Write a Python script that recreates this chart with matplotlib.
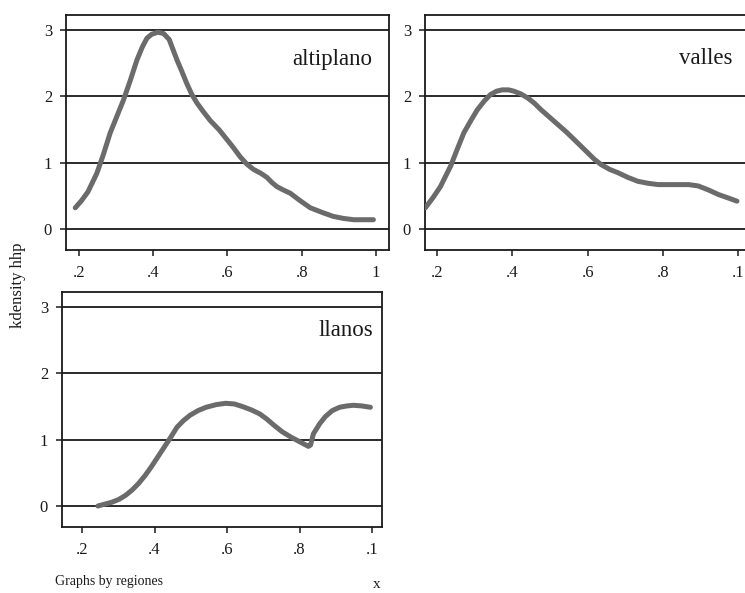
import matplotlib
matplotlib.use("Agg")
import matplotlib.pyplot as plt
import numpy as np

plt.rcParams['font.family'] = ['Liberation Serif', 'DejaVu Serif']

# Data
altiplano_x = [0.19, 0.207, 0.224, 0.248, 0.266, 0.284, 0.302, 0.32, 0.338, 0.356, 0.37, 0.383, 0.396,
               0.413, 0.428, 0.443, 0.464, 0.477, 0.49, 0.504, 0.518, 0.535,
               0.553, 0.577, 0.60, 0.617, 0.634, 0.652, 0.67, 0.69, 0.706, 0.72, 0.733, 0.75, 0.769,
               0.795, 0.823, 0.855, 0.885, 0.912, 0.94, 0.965, 0.993]
altiplano_y = [0.32, 0.43, 0.56, 0.84, 1.13, 1.45, 1.70, 1.95, 2.24, 2.55, 2.74, 2.88, 2.94,
               2.97, 2.95, 2.86, 2.55, 2.38, 2.20, 2.03, 1.90, 1.77,
               1.64, 1.50, 1.34, 1.22, 1.09, 0.98, 0.90, 0.84, 0.78, 0.70, 0.64, 0.59, 0.54,
               0.43, 0.32, 0.25, 0.19, 0.16, 0.14, 0.14, 0.14]

valles_x = [0.169, 0.19, 0.209, 0.222, 0.236, 0.254, 0.271, 0.29, 0.307, 0.325, 0.342, 0.358, 0.373,
            0.39, 0.404, 0.422, 0.44, 0.458, 0.476, 0.498, 0.52, 0.542, 0.564,
            0.582, 0.60, 0.618, 0.636, 0.658, 0.68, 0.706, 0.733, 0.76, 0.787, 0.813, 0.84, 0.868,
            0.893, 0.92, 0.947, 0.972, 0.996]
valles_y = [0.32, 0.48, 0.64, 0.79, 0.95, 1.21, 1.45, 1.64, 1.80, 1.93, 2.03, 2.08, 2.10,
            2.10, 2.08, 2.04, 1.98, 1.90, 1.80, 1.69, 1.58, 1.47, 1.35,
            1.25, 1.15, 1.05, 0.97, 0.90, 0.85, 0.78, 0.72, 0.69, 0.67, 0.67, 0.67, 0.67,
            0.65, 0.59, 0.52, 0.47, 0.42]

llanos_x = [0.244, 0.264, 0.284, 0.302, 0.32, 0.338, 0.356, 0.374, 0.391, 0.409, 0.427, 0.445, 0.462,
            0.48, 0.498, 0.52, 0.542, 0.57, 0.596, 0.62, 0.643, 0.667, 0.69,
            0.71, 0.729, 0.752, 0.776, 0.80, 0.824, 0.83, 0.838, 0.855, 0.871, 0.89, 0.91,
            0.93, 0.948, 0.972, 0.995]
llanos_y = [0.0, 0.03, 0.06, 0.10, 0.16, 0.24, 0.34, 0.46, 0.59, 0.74, 0.89, 1.04, 1.19,
            1.29, 1.37, 1.44, 1.49, 1.53, 1.55, 1.54, 1.50, 1.45, 1.39,
            1.31, 1.22, 1.12, 1.04, 0.97, 0.90, 0.92, 1.09, 1.24, 1.35, 1.44, 1.49,
            1.51, 1.52, 1.51, 1.49]

y_ticks = [0, 1, 2, 3]
x_ticks = [0.2, 0.4, 0.6, 0.8, 1.0]
x_labels_first = ['.2', '.4', '.6', '.8', '1']
x_labels_other = ['.2', '.4', '.6', '.8', '.1']

panels = [
    # (title, xs, ys, rect, xlim, xlabels, show_right, title_pos)
    ("altiplano", altiplano_x, altiplano_y, [66/745, 1-250/593, (389-66)/745, 235/593],
     (0.165, 1.035), x_labels_first, True, (0.948, 0.81)),
    ("valles", valles_x, valles_y, [425/745, 1-250/593, (746-425)/745, 235/593],
     (0.168, 1.02), x_labels_other, False, (0.958, 0.815)),
    ("llanos", llanos_x, llanos_y, [62/745, 1-527/593, (382-62)/745, 235/593],
     (0.145, 1.027), x_labels_other, True, (0.972, 0.835)),
]

fig = plt.figure(figsize=(7.45, 5.93), dpi=100)
fig.patch.set_facecolor('white')

for title, xs, ys, rect, xlim, xlabels, show_right, tpos in panels:
    ax = fig.add_axes(rect)
    ax.set_xlim(*xlim)
    ax.set_ylim(-0.317, 3.23)
    for yv in y_ticks:
        ax.axhline(yv, color='#1a1a1a', lw=1.3, zorder=1)
    ax.plot(xs, ys, color='#6b6b6b', lw=3.6, solid_capstyle='round',
            solid_joinstyle='round', zorder=3)
    ax.set_xticks(x_ticks)
    ax.set_xticklabels(xlabels)
    ax.set_yticks(y_ticks)
    ax.set_yticklabels([str(v) for v in y_ticks])
    ax.tick_params(axis='both', direction='out', length=4, width=1.1, colors='#1a1a1a',
                   labelsize=12)
    ax.tick_params(axis='x', pad=7)
    ax.tick_params(axis='y', pad=6)
    for side in ['left', 'top', 'bottom', 'right']:
        ax.spines[side].set_color('#1a1a1a')
        ax.spines[side].set_linewidth(1.3)
    if not show_right:
        ax.spines['right'].set_visible(False)
    ax.text(tpos[0], tpos[1], title, transform=ax.transAxes,
            ha='right', va='center', fontsize=16.5, color='#1a1a1a')

fig.text(18/745, 1-285/593, 'kdensity hhp', rotation=90, ha='center', va='center',
         fontsize=12, color='#1a1a1a')
fig.text(55/745, 1-582/593, 'Graphs by regiones', ha='left', va='center',
         fontsize=10, color='#1a1a1a')
fig.text(377/745, 1-585/593, 'x', ha='center', va='center',
         fontsize=11, color='#1a1a1a')

fig.savefig('out.png', dpi=100, facecolor='white')
